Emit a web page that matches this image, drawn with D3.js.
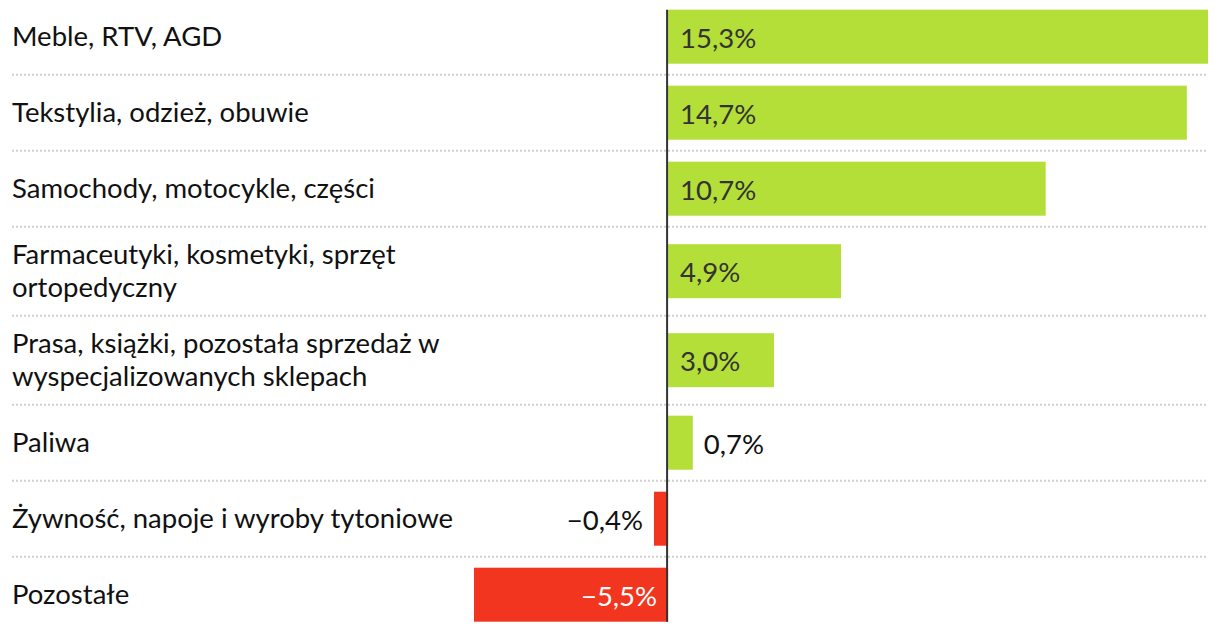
<!DOCTYPE html>
<html>
<head>
<meta charset="utf-8">
<script src="https://cdn.jsdelivr.net/npm/d3@7"></script>
<style>
  html, body { margin: 0; padding: 0; background: #fff; }
  svg { display: block; font-family: Lato, "Noto Sans", sans-serif; }
</style>
</head>
<body>
<svg id="chart" width="1220" height="634"></svg>
<script>
const categories = [
  "Meble, RTV, AGD",
  "Tekstylia, odzież, obuwie",
  "Samochody, motocykle, części",
  "Farmaceutyki, kosmetyki, sprzęt\nortopedyczny",
  "Prasa, książki, pozostała sprzedaż w\nwyspecjalizowanych sklepach",
  "Paliwa",
  "Żywność, napoje i wyroby tytoniowe",
  "Pozostałe"
];
const values = [15.3, 14.7, 10.7, 4.9, 3.0, 0.7, -0.4, -5.5];

const svg = d3.select("#chart");

const fmt = v => (v < 0 ? "\u2212" : "") + d3.format(".1f")(Math.abs(v)).replace(".", ",") + "%";

const x = d3.scaleLinear()
  .domain([d3.min(values), d3.max(values)])
  .range([474, 1208]);

// row layout
const rows = categories.map((c, i) => ({ label: c.split("\n"), value: values[i] }));
const rowH = r => r.label.length > 1 ? 89 : 76;
let yPos = -1.3;
rows.forEach(r => { r.top = yPos; r.h = rowH(r); r.mid = yPos + r.h / 2; yPos += r.h; });

const barH = 54;

// separators
svg.append("g").selectAll("line")
  .data(rows.slice(0, -1))
  .join("line")
  .attr("x1", 12).attr("x2", 1208)
  .attr("y1", d => d.top + d.h).attr("y2", d => d.top + d.h)
  .attr("stroke", "#d0d0d0")
  .attr("stroke-width", 2)
  .attr("stroke-dasharray", "2,2");

// bars
svg.append("g").selectAll("rect")
  .data(rows)
  .join("rect")
  .attr("x", d => x(Math.min(0, d.value)))
  .attr("width", d => Math.abs(x(d.value) - x(0)))
  .attr("y", d => d.mid - barH / 2)
  .attr("height", barH)
  .attr("fill", d => d.value >= 0 ? "#b3df38" : "#f2351f");

// category labels
const lab = svg.append("g").selectAll("text")
  .data(rows)
  .join("text")
  .attr("x", 12)
  .attr("font-size", 27.5)
  .attr("fill", "#111");
lab.each(function(d) {
  const t = d3.select(this);
  const n = d.label.length;
  d.label.forEach((line, j) => {
    t.append("tspan")
      .attr("x", 12)
      .attr("y", d.mid + 9 + (j - (n - 1) / 2) * 33.4)
      .text(line);
  });
});

// value labels
svg.append("g").selectAll("text")
  .data(rows)
  .join("text")
  .attr("font-size", 27.5)
  .each(function(d) {
    const t = d3.select(this).text(fmt(d.value)).attr("y", d.mid + 11);
    const barW = Math.abs(x(d.value) - x(0));
    const tw = this.getComputedTextLength();
    const inside = tw + 24 < barW;
    if (d.value >= 0) {
      if (inside) t.attr("x", x(0) + 12).attr("text-anchor", "start").attr("fill", "#333");
      else t.attr("x", x(d.value) + 11).attr("text-anchor", "start").attr("fill", "#111");
    } else {
      if (inside) t.attr("x", x(0) - 11).attr("text-anchor", "end").attr("fill", "#fff");
      else t.attr("x", x(d.value) - 11).attr("text-anchor", "end").attr("fill", "#111");
    }
  });

// zero line
svg.append("line")
  .attr("x1", x(0) - 1).attr("x2", x(0) - 1)
  .attr("y1", rows[0].mid - barH / 2)
  .attr("y2", rows[rows.length - 1].mid + barH / 2)
  .attr("stroke", "#333")
  .attr("stroke-width", 2);
</script>
</body>
</html>
